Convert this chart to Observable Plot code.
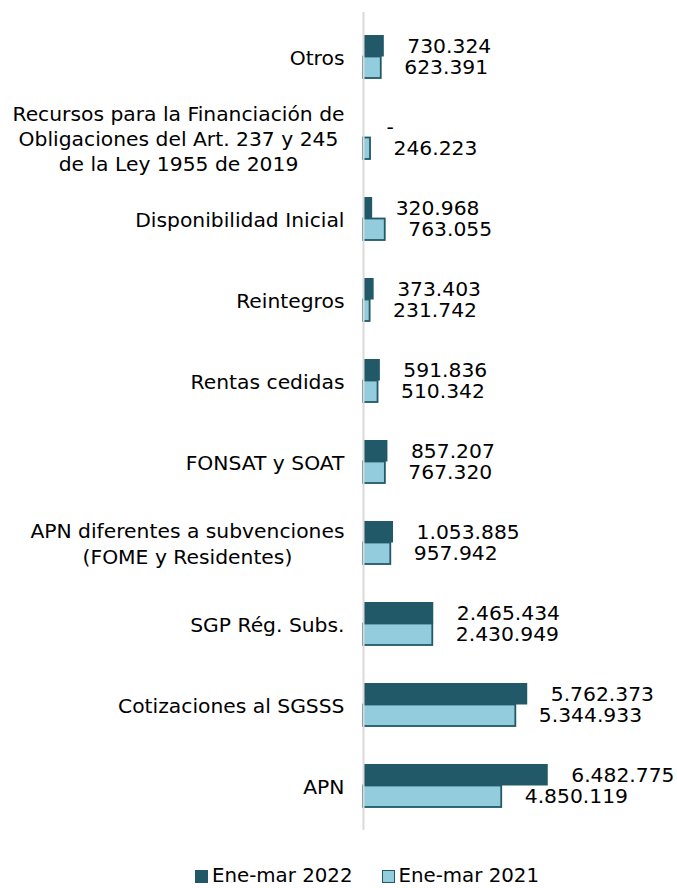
<!DOCTYPE html>
<html>
<head>
<meta charset="utf-8">
<script src="https://cdn.jsdelivr.net/npm/d3@7"></script>
<script src="https://cdn.jsdelivr.net/npm/@observablehq/plot@0.6"></script>
<style>
  html, body { margin: 0; padding: 0; background: #fff; }
  body { width: 677px; height: 888px; overflow: hidden; font-family: "DejaVu Sans", Verdana, sans-serif; }
  #chart svg { display: block; }
  #legend { display: flex; align-items: center; padding-left: 195px; height: 48px; font-size: 19.8px; line-height: 22px; color: #000; }
  .sw { width: 13px; height: 13px; box-sizing: border-box; margin-right: 4px; }
  .item { display: flex; align-items: center; margin-right: 29px; }
</style>
</head>
<body>
<div id="chart"></div>
<div id="legend"></div>
<script>
const categories = [
  "Otros",
  "Recursos para la Financiación de\nObligaciones del Art. 237 y 245\nde la Ley 1955 de 2019",
  "Disponibilidad Inicial",
  "Reintegros",
  "Rentas cedidas",
  "FONSAT y SOAT",
  "APN diferentes a subvenciones\n(FOME y Residentes)",
  "SGP Rég. Subs.",
  "Cotizaciones al SGSSS",
  "APN"
];
const values2022 = [730324, 0, 320968, 373403, 591836, 857207, 1053885, 2465434, 5762373, 6482775];
const values2021 = [623391, 246223, 763055, 231742, 510342, 767320, 957942, 2430949, 5344933, 4850119];
const seriesNames = ["Ene-mar 2022", "Ene-mar 2021"];
const colors = { dark: "#215968", light: "#93CDDD", axis: "#d9d9d9" };

const rows2022 = categories.map((c, i) => ({ category: c, value: values2022[i] }));
const rows2021 = categories.map((c, i) => ({ category: c, value: values2021[i] }));

const loc = d3.formatLocale({ decimal: ",", thousands: ".", grouping: [3] });
const fmt = v => v === 0 ? "-" : loc.format(",")(v);

const font = "DejaVu Sans, Verdana, sans-serif";
const fs = 20.3;

const chart = Plot.plot({
  width: 677,
  height: 852,
  marginLeft: 363,
  marginRight: 29,
  marginTop: 12,
  marginBottom: 22,
  style: { fontFamily: font, fontSize: fs + "px", color: "#000", background: "#fff" },
  x: { domain: [0, 10000000], axis: null },
  y: { domain: categories, paddingInner: 0.473, paddingOuter: 0.245, label: null },
  marks: [
    Plot.axisY({ tickSize: 0, tickPadding: 19, fontSize: fs, lineHeight: 1.25, label: null, fill: "#000" }),
    Plot.barX(rows2022, { x: "value", y: "category", fill: colors.dark, insetBottom: 21.5 }),
    Plot.barX(rows2021, { x: "value", y: "category", fill: colors.light, stroke: colors.dark, strokeWidth: 1.8, insetTop: 21.5 }),
    Plot.ruleX([0], { stroke: colors.axis, strokeWidth: 2 }),
    Plot.text(rows2022, { x: "value", y: "category", text: d => fmt(d.value), dx: 23, dy: -10.5, textAnchor: "start", fontSize: fs, fill: "#000" }),
    Plot.text(rows2021, { x: "value", y: "category", text: d => fmt(d.value), dx: 23, dy: 10.5, textAnchor: "start", fontSize: fs, fill: "#000" })
  ]
});
document.getElementById("chart").appendChild(chart);

// center multi-line category labels within their block (right edge stays at axis padding)
d3.select(chart).selectAll('g[aria-label="y-axis tick label"] text').each(function () {
  const tspans = d3.select(this).selectAll("tspan");
  if (tspans.size() > 1) {
    const w = this.getBBox().width;
    d3.select(this).attr("text-anchor", "middle");
    tspans.each(function () {
      const x0 = parseFloat(this.getAttribute("x") || "0");
      this.setAttribute("x", x0 - w / 2);
    });
  }
});

// legend
const legend = d3.select("#legend");
const items = [
  { name: seriesNames[0], fill: colors.dark, stroke: colors.dark },
  { name: seriesNames[1], fill: colors.light, stroke: colors.dark }
];
items.forEach(it => {
  const d = legend.append("div").attr("class", "item");
  d.append("div").attr("class", "sw").style("background", it.fill).style("border", `1.8px solid ${it.stroke}`);
  d.append("span").text(it.name);
});
</script>
</body>
</html>
